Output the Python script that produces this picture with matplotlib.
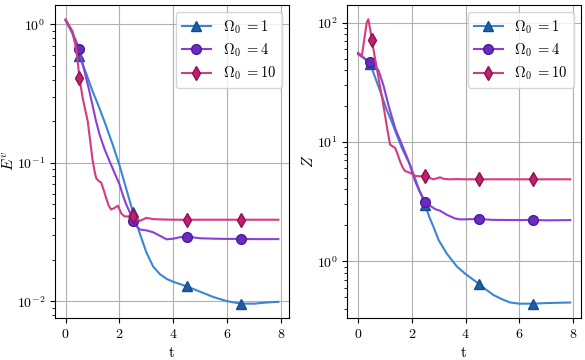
import numpy as np
import matplotlib
matplotlib.use("Agg")
import matplotlib.pyplot as plt

plt.rcParams.update({
    "font.family": "serif",
    "font.serif": ["cmr10"],
    "mathtext.fontset": "cm",
    "axes.formatter.use_mathtext": True,
    "axes.unicode_minus": False,
    "font.size": 10,
    "legend.fontsize": 10.5,
    "axes.grid": True,
    "grid.color": "#b0b0b0",
})

MARK_T = [0.5, 2.5, 4.5, 6.5]

# left panel: E^v
t_e1 = [0, 0.25, 0.5, 0.75, 1.0, 1.25, 1.5, 1.75, 2.0, 2.25, 2.5, 2.75, 3.0, 3.25,
        3.5, 3.75, 4.0, 4.5, 5.0, 5.5, 6.0, 6.5, 7.0, 7.5, 7.9]
e1 = [1.07, 0.86, 0.59, 0.45, 0.33, 0.25, 0.185, 0.135, 0.096, 0.065, 0.044, 0.031,
      0.0225, 0.0178, 0.0157, 0.0145, 0.0138, 0.0128, 0.0117, 0.0107, 0.0100, 0.0096,
      0.0096, 0.0098, 0.0099]

t_e4 = [0, 0.25, 0.5, 0.7, 0.85, 1.0, 1.13, 1.26, 1.45, 1.63, 1.8, 2.0, 2.13, 2.25,
        2.38, 2.5, 2.62, 2.75, 3.0, 3.25, 3.5, 3.75, 4.0, 4.25, 4.5, 5.0, 5.5, 6.0,
        6.5, 7.0, 7.9]
e4 = [1.07, 0.88, 0.67, 0.46, 0.35, 0.26, 0.20, 0.16, 0.125, 0.103, 0.086, 0.070,
      0.058, 0.050, 0.044, 0.038, 0.035, 0.033, 0.0325, 0.0315, 0.0297, 0.028,
      0.0283, 0.029, 0.0293, 0.0285, 0.0283, 0.0282, 0.0282, 0.0281, 0.0281]

t_e10 = [0, 0.13, 0.26, 0.39, 0.45, 0.51, 0.64, 0.82, 0.92, 1.0, 1.07, 1.13, 1.22,
         1.32, 1.42, 1.5, 1.6, 1.69, 1.8, 1.94, 2.07, 2.19, 2.35, 2.5, 2.62, 2.75,
         3.0, 3.25, 3.5, 4.0, 4.5, 5.0, 6.0, 6.5, 7.0, 7.9]
e10 = [1.09, 0.98, 0.89, 0.67, 0.54, 0.41, 0.29, 0.20, 0.14, 0.105, 0.088, 0.078,
       0.074, 0.072, 0.063, 0.056, 0.049, 0.046, 0.047, 0.049, 0.043, 0.041, 0.041,
       0.0415, 0.040, 0.038, 0.040, 0.0392, 0.039, 0.0388, 0.0388, 0.0388, 0.0388,
       0.0388, 0.0388, 0.0388]

# right panel: Z
t_z1 = [0, 0.2, 0.45, 0.65, 0.88, 1.05, 1.25, 1.45, 1.63, 1.8, 1.94, 2.1, 2.25,
        2.5, 2.65, 2.81, 3.0, 3.3, 3.68, 4.0, 4.5, 4.75, 5.04, 5.35, 5.66, 6.0,
        6.5, 7.0, 7.9]
z1 = [54.6, 51, 45, 34, 24.6, 19.0, 14.8, 11.3, 8.9, 7.4, 6.4, 5.1, 4.1, 2.95,
      2.35, 1.93, 1.5, 1.16, 0.90, 0.78, 0.645, 0.58, 0.52, 0.48, 0.45, 0.44,
      0.44, 0.445, 0.45]

t_z4 = [0, 0.2, 0.45, 0.6, 0.76, 0.94, 1.13, 1.38, 1.63, 1.88, 2.12, 2.3, 2.5,
        2.7, 2.87, 3.05, 3.3, 3.61, 3.8, 4.2, 4.5, 5.0, 6.0, 6.5, 7.0, 7.9]
z4 = [54.6, 51, 46.6, 44, 39.8, 30, 20.4, 13.0, 9.5, 6.9, 4.7, 3.8, 3.16, 2.9,
      2.73, 2.65, 2.45, 2.28, 2.24, 2.25, 2.26, 2.22, 2.21, 2.22, 2.2, 2.21]

t_z10 = [0, 0.14, 0.24, 0.32, 0.38, 0.45, 0.51, 0.6, 0.7, 0.82, 0.94, 1.07, 1.19,
         1.28, 1.38, 1.47, 1.56, 1.66, 1.75, 1.85, 1.94, 2.12, 2.3, 2.5, 2.65, 2.8,
         2.93, 3.05, 3.2, 3.4, 3.7, 4.0, 4.5, 5.0, 6.0, 6.5, 7.0, 7.9]
z10 = [56, 53, 75, 100, 107, 88, 71.8, 55, 41, 29, 20.4, 13.5, 9.5, 9.2, 8.9, 7.9,
       6.9, 6.1, 5.7, 5.6, 5.5, 5.2, 5.15, 5.2, 5.0, 4.86, 4.95, 5.05, 4.9, 4.86,
       4.88, 4.86, 4.86, 4.86, 4.86, 4.86, 4.86, 4.86]

OMEGAS = [1, 4, 10]
STYLES = [
    dict(color="#3a86d4", marker="^", mfc="#1f5fa8", mec="#174c8c"),
    dict(color="#8a40d8", marker="o", mfc="#6a2cc0", mec="#4a1a9a"),
    dict(color="#d63a80", marker="d", mfc="#c02070", mec="#8e1050"),
]


def marks(t):
    t = np.asarray(t)
    return [int(np.argmin(np.abs(t - m))) for m in MARK_T]


fig = plt.figure(figsize=(5.85, 3.6), dpi=100)
ax1 = fig.add_axes([0.094, 0.117, 0.400, 0.869])
ax2 = fig.add_axes([0.594, 0.117, 0.399, 0.869])

panels = [
    (ax1, [(t_e1, e1), (t_e4, e4), (t_e10, e10)], "$E^v$", -0.167),
    (ax2, [(t_z1, z1), (t_z4, z4), (t_z10, z10)], "$Z$", -0.134),
]

for ax, series, ylab, xlab_pos in panels:
    for (t, y), om, st in zip(series, OMEGAS, STYLES):
        ax.plot(t, y, lw=1.5, ms=7, markevery=marks(t), mew=1.0,
                label=r"$\Omega_0\;{=}$" + str(om), **st)
    ax.set_yscale("log")
    ax.set_xticks([0, 2, 4, 6, 8])
    ax.set_xlabel("t", fontsize=11)
    ax.set_ylabel(ylab, fontsize=11)
    ax.yaxis.set_label_coords(xlab_pos, 0.5)
    ax.legend(loc="upper right", labelspacing=0.4)

fig.savefig("out.png", dpi=100)
